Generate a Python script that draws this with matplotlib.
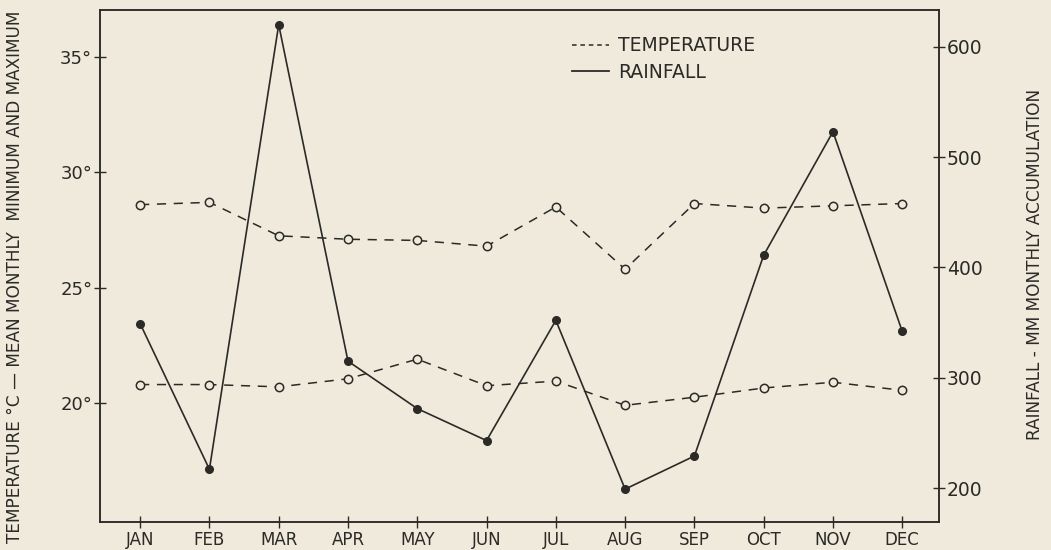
import matplotlib.pyplot as plt
from matplotlib.lines import Line2D

months = ['JAN', 'FEB', 'MAR', 'APR', 'MAY', 'JUN', 'JUL', 'AUG', 'SEP', 'OCT', 'NOV', 'DEC']
temp_max = [28.6, 28.7, 27.25, 27.1, 27.05, 26.8, 28.5, 25.8, 28.65, 28.45, 28.55, 28.65]
temp_min = [20.8, 20.8, 20.7, 21.05, 21.9, 20.75, 20.95, 19.9, 20.25, 20.65, 20.9, 20.55]
rainfall = [349, 217, 620, 315, 272, 243, 352, 199, 229, 411, 523, 342]
temp_ticks = [20, 25, 30, 35]
rain_ticks = [200, 300, 400, 500, 600]

bg = '#efeadb'
ink = '#2b2a27'
plt.rcParams['font.family'] = 'DejaVu Sans'

fig = plt.figure(figsize=(10.51, 5.5), dpi=100, facecolor=bg)
ax = fig.add_axes([0.0951, 0.0509, 0.7983, 0.9309], facecolor=bg)
ax2 = ax.twinx()

x = list(range(len(months)))

# temperature (left axis)
for series in (temp_max, temp_min):
    ax.plot(x, series, color=ink, lw=1.1, dashes=(6, 5),
            marker='o', ms=6, mfc=bg, mec=ink, mew=1.1)

# rainfall (right axis)
ax2.plot(x, rainfall, color=ink, lw=1.2, marker='o', ms=5.5, mfc=ink, mec=ink)

ax.set_xlim(-0.58, 11.53)
ax.set_ylim(14.84, 37.04)
ax2.set_ylim(169.2, 633.3)

ax.set_xticks(x)
ax.set_xticklabels(months, fontsize=12, color=ink)
ax.set_yticks(temp_ticks)
ax.set_yticklabels([f'{t}°' for t in temp_ticks], fontsize=13, color=ink)
ax2.set_yticks(rain_ticks)
ax2.set_yticklabels([str(r) for r in rain_ticks], fontsize=13.5, color=ink)

ax.tick_params(axis='both', direction='inout', length=9, width=1, color=ink, pad=2)
ax.tick_params(axis='y', pad=1)
ax2.tick_params(axis='y', direction='inout', length=9, width=1, color=ink, pad=1)

for a in (ax, ax2):
    for s in a.spines.values():
        s.set_color(ink)
        s.set_linewidth(1.1)

fig.text(0.014, 0.497, 'TEMPERATURE °C — MEAN MONTHLY  MINIMUM AND MAXIMUM',
         rotation=90, ha='center', va='center', fontsize=12.2, color=ink)
fig.text(0.985, 0.52, 'RAINFALL - MM MONTHLY ACCUMULATION',
         rotation=90, ha='center', va='center', fontsize=12.2, color=ink)

handles = [Line2D([], [], color=ink, lw=1.1, dashes=(3, 2.5)),
           Line2D([], [], color=ink, lw=1.3)]
leg = fig.legend(handles, ['TEMPERATURE', 'RAINFALL'], loc='upper left',
                 bbox_to_anchor=(0.528, 0.965), frameon=False, fontsize=13.5,
                 handlelength=2.0, handletextpad=0.45, labelspacing=0.4)
for t in leg.get_texts():
    t.set_color(ink)

fig.savefig('out.png', dpi=100, facecolor=bg)
